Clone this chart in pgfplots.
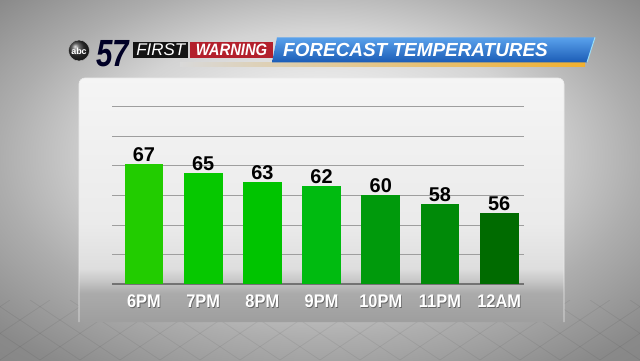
\documentclass[border=0pt]{standalone}
\usepackage{pgfplots}
\pgfplotsset{compat=1.18}
\usepackage{fontspec}
\setmainfont{Liberation Sans}
\newfontfamily\cond{Liberation Sans}[FakeStretch=0.9]
\newfontfamily\narrow{Liberation Sans}[FakeStretch=0.78]
\definecolor{barA}{HTML}{22CC00}
\definecolor{barB}{HTML}{06C800}
\definecolor{barC}{HTML}{00C400}
\definecolor{barD}{HTML}{00BB10}
\definecolor{barE}{HTML}{009A0C}
\definecolor{barF}{HTML}{008A08}
\definecolor{barG}{HTML}{006B00}
\definecolor{bannerTop}{HTML}{5AA2EC}
\definecolor{bannerBot}{HTML}{1B5CB6}
\definecolor{warnred}{HTML}{B3202C}
\definecolor{gold}{HTML}{F0B030}
\pgfdeclareradialshading{bgshade}{\pgfpoint{0bp}{6bp}}{%
  color(0bp)=(white!94!black); color(9bp)=(white!91!black);
  color(17bp)=(white!83!black); color(25bp)=(white!68!black);
  color(34bp)=(white!54!black); color(50bp)=(white!46!black)}
\pgfdeclareverticalshading{panelshade}{100bp}{%
  color(0bp)=(white!60!black); color(25bp)=(white!62!black);
  color(31bp)=(white!67!black); color(33.5bp)=(white!78!black);
  color(36bp)=(white!87!black); color(45bp)=(white!92!black);
  color(75bp)=(white!96!black); color(100bp)=(white!96!black)}
\newcommand{\sh}[1]{\makebox[0pt][l]{\hspace{0.8bp}\raisebox{-0.8bp}{\textcolor{black!60}{#1}}}#1}
\begin{document}
\begin{tikzpicture}
\begin{scope}[x=1bp,y=1bp]
  \useasboundingbox (0,0) rectangle (640,360);
  \shade[shading=bgshade] (0,0) rectangle (640,360);
  % faint floor pattern
  \begin{scope}
    \clip (0,0) rectangle (640,60);
    \foreach \i in {-12,...,24} {
      \draw[black, opacity=0.06, line width=0.8bp] (\i*40,0) -- (\i*40+90,60);
      \draw[black, opacity=0.06, line width=0.8bp] (\i*40,0) -- (\i*40-90,60);
    }
  \end{scope}
  % panel
  \shade[shading=panelshade, rounded corners=6bp] (79,38) rectangle (564,282);
  \draw[white!92!black, line width=0.6bp, rounded corners=6bp] (79,38) -- (79,282) -- (564,282) -- (564,38);
  % header
  \shade[left color=white!85!black, right color=gold] (180,293.5) rectangle (585,297.5);
  \shade[top color=bannerTop, bottom color=bannerBot] (272,297.7) -- (277,322.7) -- (595,322.7) -- (587,297.7) -- cycle;
  \draw[cyan!40!white, line width=1bp] (595,322.7) -- (587,297.7);
  \node[anchor=base west, text=white, inner sep=0pt, font=\bfseries\itshape\fontsize{19}{19}\selectfont] at (283,304) {FORECAST TEMPERATURES};
  \fill[black!92] (133.3,301.7) rectangle (188.3,318.3);
  \node[text=white, inner sep=0pt, font=\itshape\fontsize{17}{17}\selectfont] at (160.8,310) {FIRST};
  \fill[warnred] (190,301.7) rectangle (273,318.3);
  \node[text=white, inner sep=0pt, font=\cond\bfseries\itshape\fontsize{16.5}{16.5}\selectfont] at (231.5,310) {WARNING};
  \node[anchor=base, text=black!85!blue, inner sep=0pt, font=\narrow\bfseries\itshape\fontsize{38}{38}\selectfont] at (113,294) {57};
  \shade[ball color=black!80, draw=white!70!black, line width=0.5bp] (79,309.5) circle (10.5);
  \node[text=white, inner sep=0pt, font=\bfseries\fontsize{9}{9}\selectfont] at (79,309) {abc};
\end{scope}
\begin{axis}[
  at={(112bp,76bp)}, anchor=south west,
  width=412bp, height=177.3bp, scale only axis,
  xmin=-0.54, xmax=6.42, ymin=40, ymax=80,
  axis line style={draw=none},
  major tick length=0pt,
  ytick={46.6667,53.3333,60,66.6667,73.3333,80},
  yticklabels={},
  ymajorgrids,
  grid style={black!38, line width=0.8bp},
  extra y ticks={40}, extra y tick labels={},
  extra y tick style={grid style={black!55, line width=1.1bp}},
  xtick={0,1,2,3,4,5,6},
  xticklabels={\sh{6PM},\sh{7PM},\sh{8PM},\sh{9PM},\sh{10PM},\sh{11PM},\sh{12AM}},
  xticklabel style={font=\cond\bfseries\fontsize{18.3}{18.3}\selectfont, text=white, inner sep=0pt, anchor=north, yshift=-11bp},
  /pgf/number format/assume math mode=true,
  nodes near coords,
  every node near coord/.append style={font=\bfseries\fontsize{20}{20}\selectfont, text=black, inner sep=0pt, anchor=south, yshift=2.5bp},
  clip=false,
]
\addplot[ybar, bar width=38.7bp, bar shift=0pt, fill=barA, draw=none] coordinates {(0,67)};
\addplot[ybar, bar width=38.7bp, bar shift=0pt, fill=barB, draw=none] coordinates {(1,65)};
\addplot[ybar, bar width=38.7bp, bar shift=0pt, fill=barC, draw=none] coordinates {(2,63)};
\addplot[ybar, bar width=38.7bp, bar shift=0pt, fill=barD, draw=none] coordinates {(3,62)};
\addplot[ybar, bar width=38.7bp, bar shift=0pt, fill=barE, draw=none] coordinates {(4,60)};
\addplot[ybar, bar width=38.7bp, bar shift=0pt, fill=barF, draw=none] coordinates {(5,58)};
\addplot[ybar, bar width=38.7bp, bar shift=0pt, fill=barG, draw=none] coordinates {(6,56)};
\end{axis}
\end{tikzpicture}
\end{document}
